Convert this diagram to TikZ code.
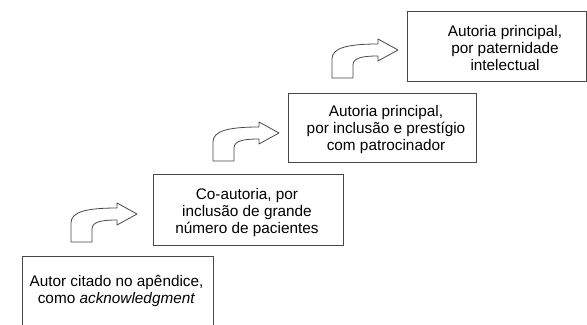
\documentclass[tikz,border=0pt]{standalone}
\usepackage{fontspec}
\setmainfont{Liberation Sans}
\usepackage{tikz}

\definecolor{linegray}{RGB}{72,72,72}

\tikzset{
    stepbox/.style={draw=linegray, line width=0.75pt, fill=white},
    steptext/.style={align=center, inner sep=0pt, font=\fontsize{11.5}{12.9}\selectfont},
    upturn/.pic={
        \draw[linegray, line width=0.6pt, fill=white, line join=round]
            (0,0) -- (0,19) .. controls (0,30) and (15,34) .. (46,34)
            -- (46,39) -- (66,28) -- (46,17) -- (46,22)
            .. controls (30,22) and (21,20) .. (21,13) -- (21,0) -- cycle;
    }
}

\begin{document}
\begin{tikzpicture}[x=0.75pt, y=0.75pt]
    \clip (0,0) rectangle (587,325);
    % steps, from bottom to top
    \node[stepbox, minimum width=143.25pt, minimum height=51.75pt] (box1) at (117.5,33.5) {};
    \node[stepbox, minimum width=142.5pt, minimum height=53.25pt] (box2) at (248,114.5) {};
    \node[stepbox, minimum width=141pt, minimum height=51.75pt] (box3) at (382,196.5) {};
    \node[stepbox, minimum width=134.25pt, minimum height=52.5pt] (box4) at (496.5,278) {};
    \node[steptext] (txt1) at ([xshift=-0.75pt,yshift=0.4pt]box1.center) {Autor citado no apêndice,\\como \textit{acknowledgment}};
    \node[steptext] (txt2) at ([xshift=-0.75pt,yshift=-1.5pt]box2.center) {Co-autoria, por\\inclusão de grande\\número de pacientes};
    \node[steptext] (txt3) at ([xshift=3pt,yshift=-1pt]box3.center) {Autoria principal,\\por inclusão e prestígio\\com patrocinador};
    \node[steptext] (txt4) at ([xshift=6.4pt,yshift=-0.75pt]box4.center) {Autoria principal,\\por paternidade\\intelectual};
    % bent arrows between the steps
    \pic at (71,83) {upturn};
    \pic at (213,164) {upturn};
    \pic at (332,247) {upturn};
\end{tikzpicture}
\end{document}
